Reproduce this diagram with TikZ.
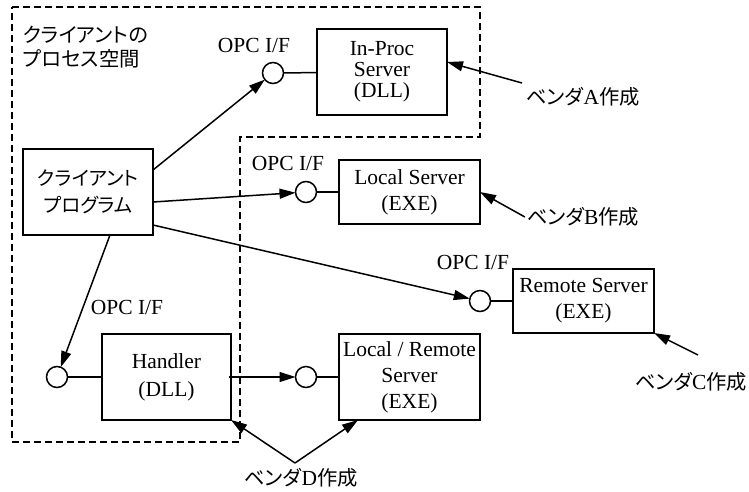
\documentclass[tikz,border=0pt]{standalone}
\usepackage{fontspec}
\setmainfont{Liberation Serif}
\newfontfamily\jpfont[RawFeature=+palt]{Noto Sans CJK JP}
\usetikzlibrary{arrows.meta}
\newcommand\jpsz{\fontsize{20.3}{24}\jpfont}
\begin{document}
\begin{tikzpicture}[x=1pt,y=-1pt,
  every node/.style={inner sep=0pt, outer sep=0pt},
  lat/.style={font=\fontsize{21.5}{26}\selectfont, align=center},
  box/.style={draw, line width=1.5pt, lat},
  iface/.style={draw, circle, line width=1.5pt, minimum size=21pt, fill=white},
  ln/.style={line width=1.5pt},
  arr/.style={line width=1.5pt, -{Triangle[length=16pt,width=10pt]}},
  dsh/.style={line width=1.7pt, dash pattern=on 7pt off 4pt}]
\useasboundingbox (0,0) rectangle (749,491);
% client process space
\draw[dsh] (12,7) -- (480,7) -- (480,137) -- (240,137) -- (240,442) -- (12,442) -- cycle;
\node[anchor=west, align=left, font=\jpsz] (space) at (23,47) {クライアントの\\プロセス空間};
% boxes
\node[box, minimum width=130pt, minimum height=86pt, font=\fontsize{21.5}{21}\selectfont] (inproc) at (382,72) {In-Proc\\Server\\(DLL)};
\node[box, minimum width=130pt, minimum height=86pt, font=\fontsize{19.5}{27}\jpfont] (client) at (88,192) {クライアント\\プログラム};
\node[box, minimum width=141pt, minimum height=64pt] (local) at (409.5,192) {Local Server\\(EXE)};
\node[box, minimum width=141pt, minimum height=64pt] (remote) at (583.5,301) {Remote Server\\(EXE)};
\node[box, minimum width=129pt, minimum height=86pt, font=\fontsize{21.5}{28}\selectfont] (handler) at (166.5,377) {Handler\\(DLL)};
\node[box, minimum width=141pt, minimum height=86pt] (lr) at (409.5,377) {Local / Remote\\Server\\(EXE)};
% interfaces
\node[iface] (cA) at (273,73) {};
\node[iface] (cB) at (306,192) {};
\node[iface] (cC) at (480,301) {};
\node[iface] (cD) at (57,377) {};
\node[iface] (cE) at (306,377) {};
\node[lat] (oA) at (254,45) {OPC I/F};
\node[lat] (oB) at (288,163) {OPC I/F};
\node[lat] (oC) at (473,262) {OPC I/F};
\node[lat] (oD) at (127,307) {OPC I/F};
% vendor labels
\node[lat] (vA) at (583,97) {{\jpsz ベンダ}A{\jpsz 作成}};
\node[lat] (vB) at (583,217) {{\jpsz ベンダ}B{\jpsz 作成}};
\node[lat] (vC) at (691,382) {{\jpsz ベンダ}C{\jpsz 作成}};
\node[lat] (vD) at (301,478) {{\jpsz ベンダ}D{\jpsz 作成}};
\coordinate (sA) at (522,83);
\coordinate (sC) at (698,355);
\coordinate (sD) at (295,463);
% connectors
\draw[ln] (cA) -- (inproc);
\draw[ln] (cB) -- (local);
\draw[ln] (cC) -- (remote);
\draw[ln] (cD) -- (handler);
\draw[ln] (cE) -- (lr);
\draw[arr] ([yshift=22pt]client.east) -- (cA);
\draw[arr] ([yshift=-10pt]client.east) -- (cB);
\draw[arr] ([yshift=-33pt]client.east) -- (cC);
\draw[arr] ([xshift=22pt]client.south) -- (cD);
\draw[arr] ([xshift=-2pt]handler.east) -- (cE);
\draw[arr] (sA) -- ([yshift=10pt]inproc.east);
\draw[arr] ([xshift=-2pt]vB.west) -- (local.east);
\draw[arr] (sC) -- (remote.south east);
\draw[arr] (sD) -- (handler.south east);
\draw[arr] (sD) -- ([xshift=19pt]lr.south west);
\end{tikzpicture}
\end{document}
